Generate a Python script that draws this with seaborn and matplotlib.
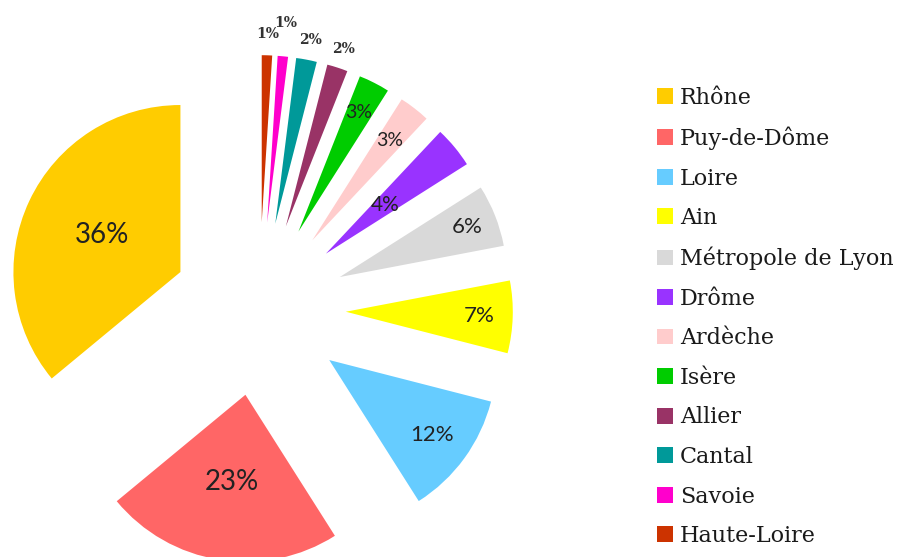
import matplotlib
matplotlib.use("Agg")
import matplotlib.pyplot as plt
import seaborn as sns
import numpy as np

# ---- data ----
departements = ["Rhône", "Puy-de-Dôme", "Loire", "Ain", "Métropole de Lyon", "Drôme",
                "Ardèche", "Isère", "Allier", "Cantal", "Savoie", "Haute-Loire"]
parts = [36, 23, 12, 7, 6, 4, 3, 3, 2, 2, 1, 1]
pct_labels = ["36%", "23%", "12%", "7%", "6%", "4%", "3%", "3%", "2%", "2%", "1%", "1%"]

# ---- style ----
colors = ["#FFCC00", "#FF6666", "#66CCFF", "#FFFF00", "#D9D9D9", "#9933FF",
          "#FFCCCC", "#00CC00", "#993366", "#009999", "#FF00CC", "#CC3300"]
label_dist = [0.52, 0.53, 0.76, 0.80, 0.82, 0.46, 0.76, 0.80, 1.12, 1.12, 1.20, 1.13]
label_size = [20, 20, 16, 16, 16, 15, 14, 14, 10, 10, 10, 10]

sns.set_theme(style="white")
plt.rcParams["font.family"] = ["Lato", "DejaVu Sans"]

W, H, DPI = 899, 557, 100
fig = plt.figure(figsize=(W / DPI, H / DPI), dpi=DPI)
ax = fig.add_axes([0, 0, 1, 1])

cx, cy, R = 259, 309, 167  # pixel centre and radius
wedges, _ = ax.pie(parts, colors=sns.color_palette(colors), startangle=90,
                   counterclock=True, explode=[0.52] * len(parts), radius=1,
                   wedgeprops=dict(linewidth=0))

ax.set_xlim(-cx / R, (W - cx) / R)
ax.set_ylim(-(H - cy) / R, cy / R)
ax.set_aspect("equal", adjustable="box")
ax.axis("off")

for w, lab, d, fs in zip(wedges, pct_labels, label_dist, label_size):
    ang = np.deg2rad((w.theta1 + w.theta2) / 2)
    x0, y0 = w.center
    x = x0 + d * w.r * np.cos(ang)
    y = y0 + d * w.r * np.sin(ang)
    if d > 1:
        ax.text(x, y, lab, ha="center", va="center", fontsize=fs,
                family=["DejaVu Serif"], fontweight="bold", color="#333333")
    else:
        ax.text(x, y, lab, ha="center", va="center", fontsize=fs, color="#222222")

leg = fig.legend(wedges, departements, loc="upper left",
                 bbox_to_anchor=(657 / W, 1 - 87 / H), frameon=False,
                 prop={"family": "DejaVu Serif", "size": 16},
                 handlelength=0.72, handleheight=0.72, handletextpad=0.32,
                 labelspacing=0.79, borderpad=0, borderaxespad=0)
for t in leg.get_texts():
    t.set_color("#1a1a1a")

fig.savefig("out.png", dpi=DPI, facecolor="white")
